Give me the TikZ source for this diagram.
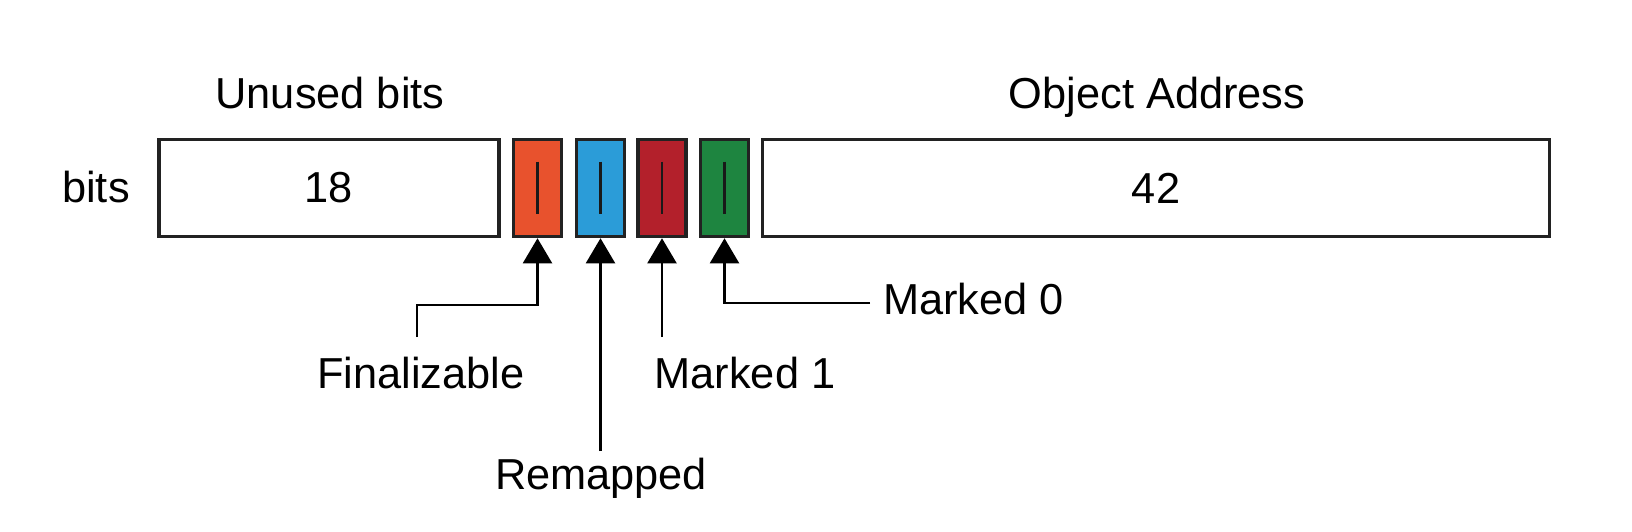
\documentclass[tikz,border=0pt]{standalone}
\usepackage{fontspec}
\setmainfont{Liberation Sans}
\usetikzlibrary{arrows.meta}
\definecolor{cOrange}{HTML}{E8522D}
\definecolor{cBlue}{HTML}{2B9CD8}
\definecolor{cRed}{HTML}{B3202B}
\definecolor{cGreen}{HTML}{1E8540}
\definecolor{cBorder}{HTML}{222222}
\begin{document}
\begin{tikzpicture}[x=0.75pt,y=-0.75pt,
  txt/.style={font=\fontsize{32.5}{38}\selectfont, inner sep=0pt, text=black},
  field/.style={draw=cBorder, line width=2.4pt, minimum height=73pt, inner sep=0pt, font=\fontsize{32.5}{38}\selectfont},
  flag/.style={field, minimum width=36pt},
  bar/.style={line width=2pt, black!90},
  conn/.style={draw=black, line width=1.6pt},
  arr/.style={conn, -{Triangle[width=21.75pt,length=18.75pt]}}
]
\useasboundingbox (0,0) rectangle (1632,532);
% fields
\node[field, minimum width=255pt] (unused) at (329,188) {18};
\node[field, minimum width=590pt] (addr) at (1156,188) {42};
\node[flag, fill=cOrange] (orange) at (537.5,188) {};
\node[flag, fill=cBlue] (blue) at (600.5,188) {};
\node[flag, fill=cRed] (red) at (662,188) {};
\node[flag, fill=cGreen] (green) at (724.5,188) {};
% inner bars
\foreach \b in {orange,blue,red,green}{
  \draw[bar] ([yshift=-18pt]\b.north) -- ([yshift=18pt]\b.south);
}
% labels
\node[txt, anchor=base] (bitslbl) at (96,202) {bits};
\node[txt, anchor=base] (unusedlbl) at (330,108) {Unused bits};
\node[txt, anchor=base] (addrlbl) at (1157,108) {Object Address};
\node[txt, anchor=base] (fin) at (421,388) {Finalizable};
\node[txt, anchor=base] (remap) at (601,489) {Remapped};
\node[txt, anchor=base] (mark1) at (745,388) {Marked 1};
\node[txt, anchor=base west] (mark0) at (883,314) {Marked 0};
% connector ends
\coordinate (finEnd) at (417,337);
\coordinate (finBend) at (417,305);
\coordinate (remapEnd) at (600.5,451);
\coordinate (mark1End) at (662,337);
\coordinate (mark0End) at (870,303);
% connectors
\draw[arr] (finEnd) -- (finBend) -| (orange.south);
\draw[arr] (remapEnd) -- (blue.south);
\draw[arr] (mark1End) -- (red.south);
\draw[arr] (mark0End) -| (green.south);
\end{tikzpicture}
\end{document}
